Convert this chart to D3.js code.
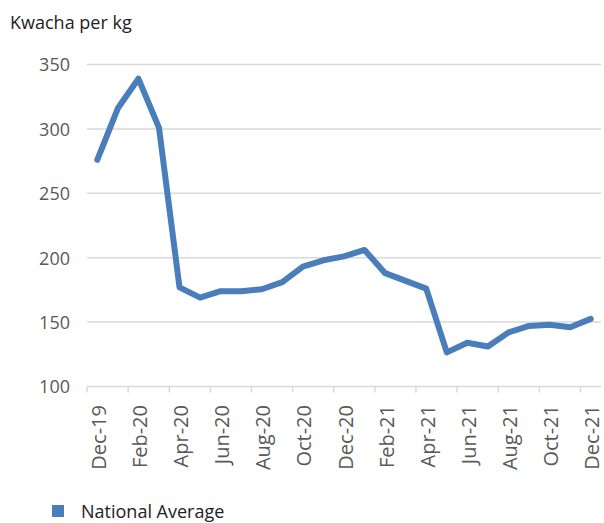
<!DOCTYPE html>
<html>
<head>
<meta charset="utf-8">
<script src="https://cdn.jsdelivr.net/npm/d3@7"></script>
<style>
body { margin: 0; background: #fff; }
text { font-family: "Open Sans", sans-serif; }
</style>
</head>
<body>
<script>
// monthly prices, Dec-19 .. Dec-21
var months = ["Dec-19","Jan-20","Feb-20","Mar-20","Apr-20","May-20","Jun-20","Jul-20","Aug-20","Sep-20","Oct-20","Nov-20",
  "Dec-20","Jan-21","Feb-21","Mar-21","Apr-21","May-21","Jun-21","Jul-21","Aug-21","Sep-21","Oct-21","Nov-21","Dec-21"]
var prices = [276, 316, 339, 301, 177, 169, 174, 174, 175.5, 181, 193, 198,
  201, 206, 188, 182, 176, 126.5, 134, 131, 142, 147, 148, 146, 152.5]
var yTicks = [100, 150, 200, 250, 300, 350]

var W = 604, H = 523
var margin = {top: 64.5, right: 3, bottom: 136.5, left: 87}
var width = W - margin.left - margin.right
var height = H - margin.top - margin.bottom

var svg = d3.select("body").append("svg").attr("width", W).attr("height", H)
var main = svg.append("g").attr("transform", "translate(" + margin.left + "," + margin.top + ")")

var x = d3.scaleBand().domain(months).range([0, width]).padding(0)
var y = d3.scaleLinear().domain([100, 350]).range([height, 0])

// gridlines
main.selectAll(".grid").data(yTicks.slice(1)).enter().append("line")
  .attr("x1", 0).attr("x2", width)
  .attr("y1", function(d) { return y(d) }).attr("y2", function(d) { return y(d) })
  .attr("stroke", "#d9d9d9").attr("stroke-width", 1.5)

// y labels
var yAxis = d3.axisLeft(y).tickValues(yTicks).tickSize(0).tickPadding(17)
var gy = main.append("g").call(yAxis)
gy.select(".domain").remove()
gy.selectAll("text").attr("font-size", 18).attr("fill", "#595959").attr("dy", "0.35em")

// x axis: ticks on every second category boundary
main.append("line").attr("x1", 0).attr("x2", width).attr("y1", height).attr("y2", height)
  .attr("stroke", "#d9d9d9").attr("stroke-width", 1.5)
var boundaries = d3.range(0, months.length, 2)
main.selectAll(".xtick").data(boundaries).enter().append("line")
  .attr("x1", function(i) { return x(months[i]) }).attr("x2", function(i) { return x(months[i]) })
  .attr("y1", height).attr("y2", height + 6)
  .attr("stroke", "#d9d9d9").attr("stroke-width", 1.5)

var labelled = months.filter(function(m, i) { return i % 2 == 0 })
main.selectAll(".xlab").data(labelled).enter().append("text")
  .attr("transform", function(d) { return "translate(" + (x(d) + x.bandwidth() / 2 + 8.5) + "," + (height + 18.5) + ") rotate(-90)" })
  .attr("text-anchor", "end")
  .attr("font-size", 20).attr("fill", "#595959")
  .text(function(d) { return d })

// line
var line = d3.line()
  .x(function(d, i) { return x(months[i]) + x.bandwidth() / 2 })
  .y(function(d) { return y(d) })
main.append("path").datum(prices).attr("d", line)
  .attr("fill", "none").attr("stroke", "#4a7ebb").attr("stroke-width", 6)
  .attr("stroke-linejoin", "round").attr("stroke-linecap", "round")

// unit label
svg.append("text").attr("x", 10).attr("y", 29).attr("font-size", 18).attr("fill", "#222").text("Kwacha per kg")

// legend
svg.append("rect").attr("x", 52).attr("y", 505).attr("width", 12).attr("height", 12).attr("fill", "#4a7ebb")
svg.append("text").attr("x", 81).attr("y", 518).attr("font-size", 18).attr("fill", "#222").text("National Average")
</script>
</body>
</html>
